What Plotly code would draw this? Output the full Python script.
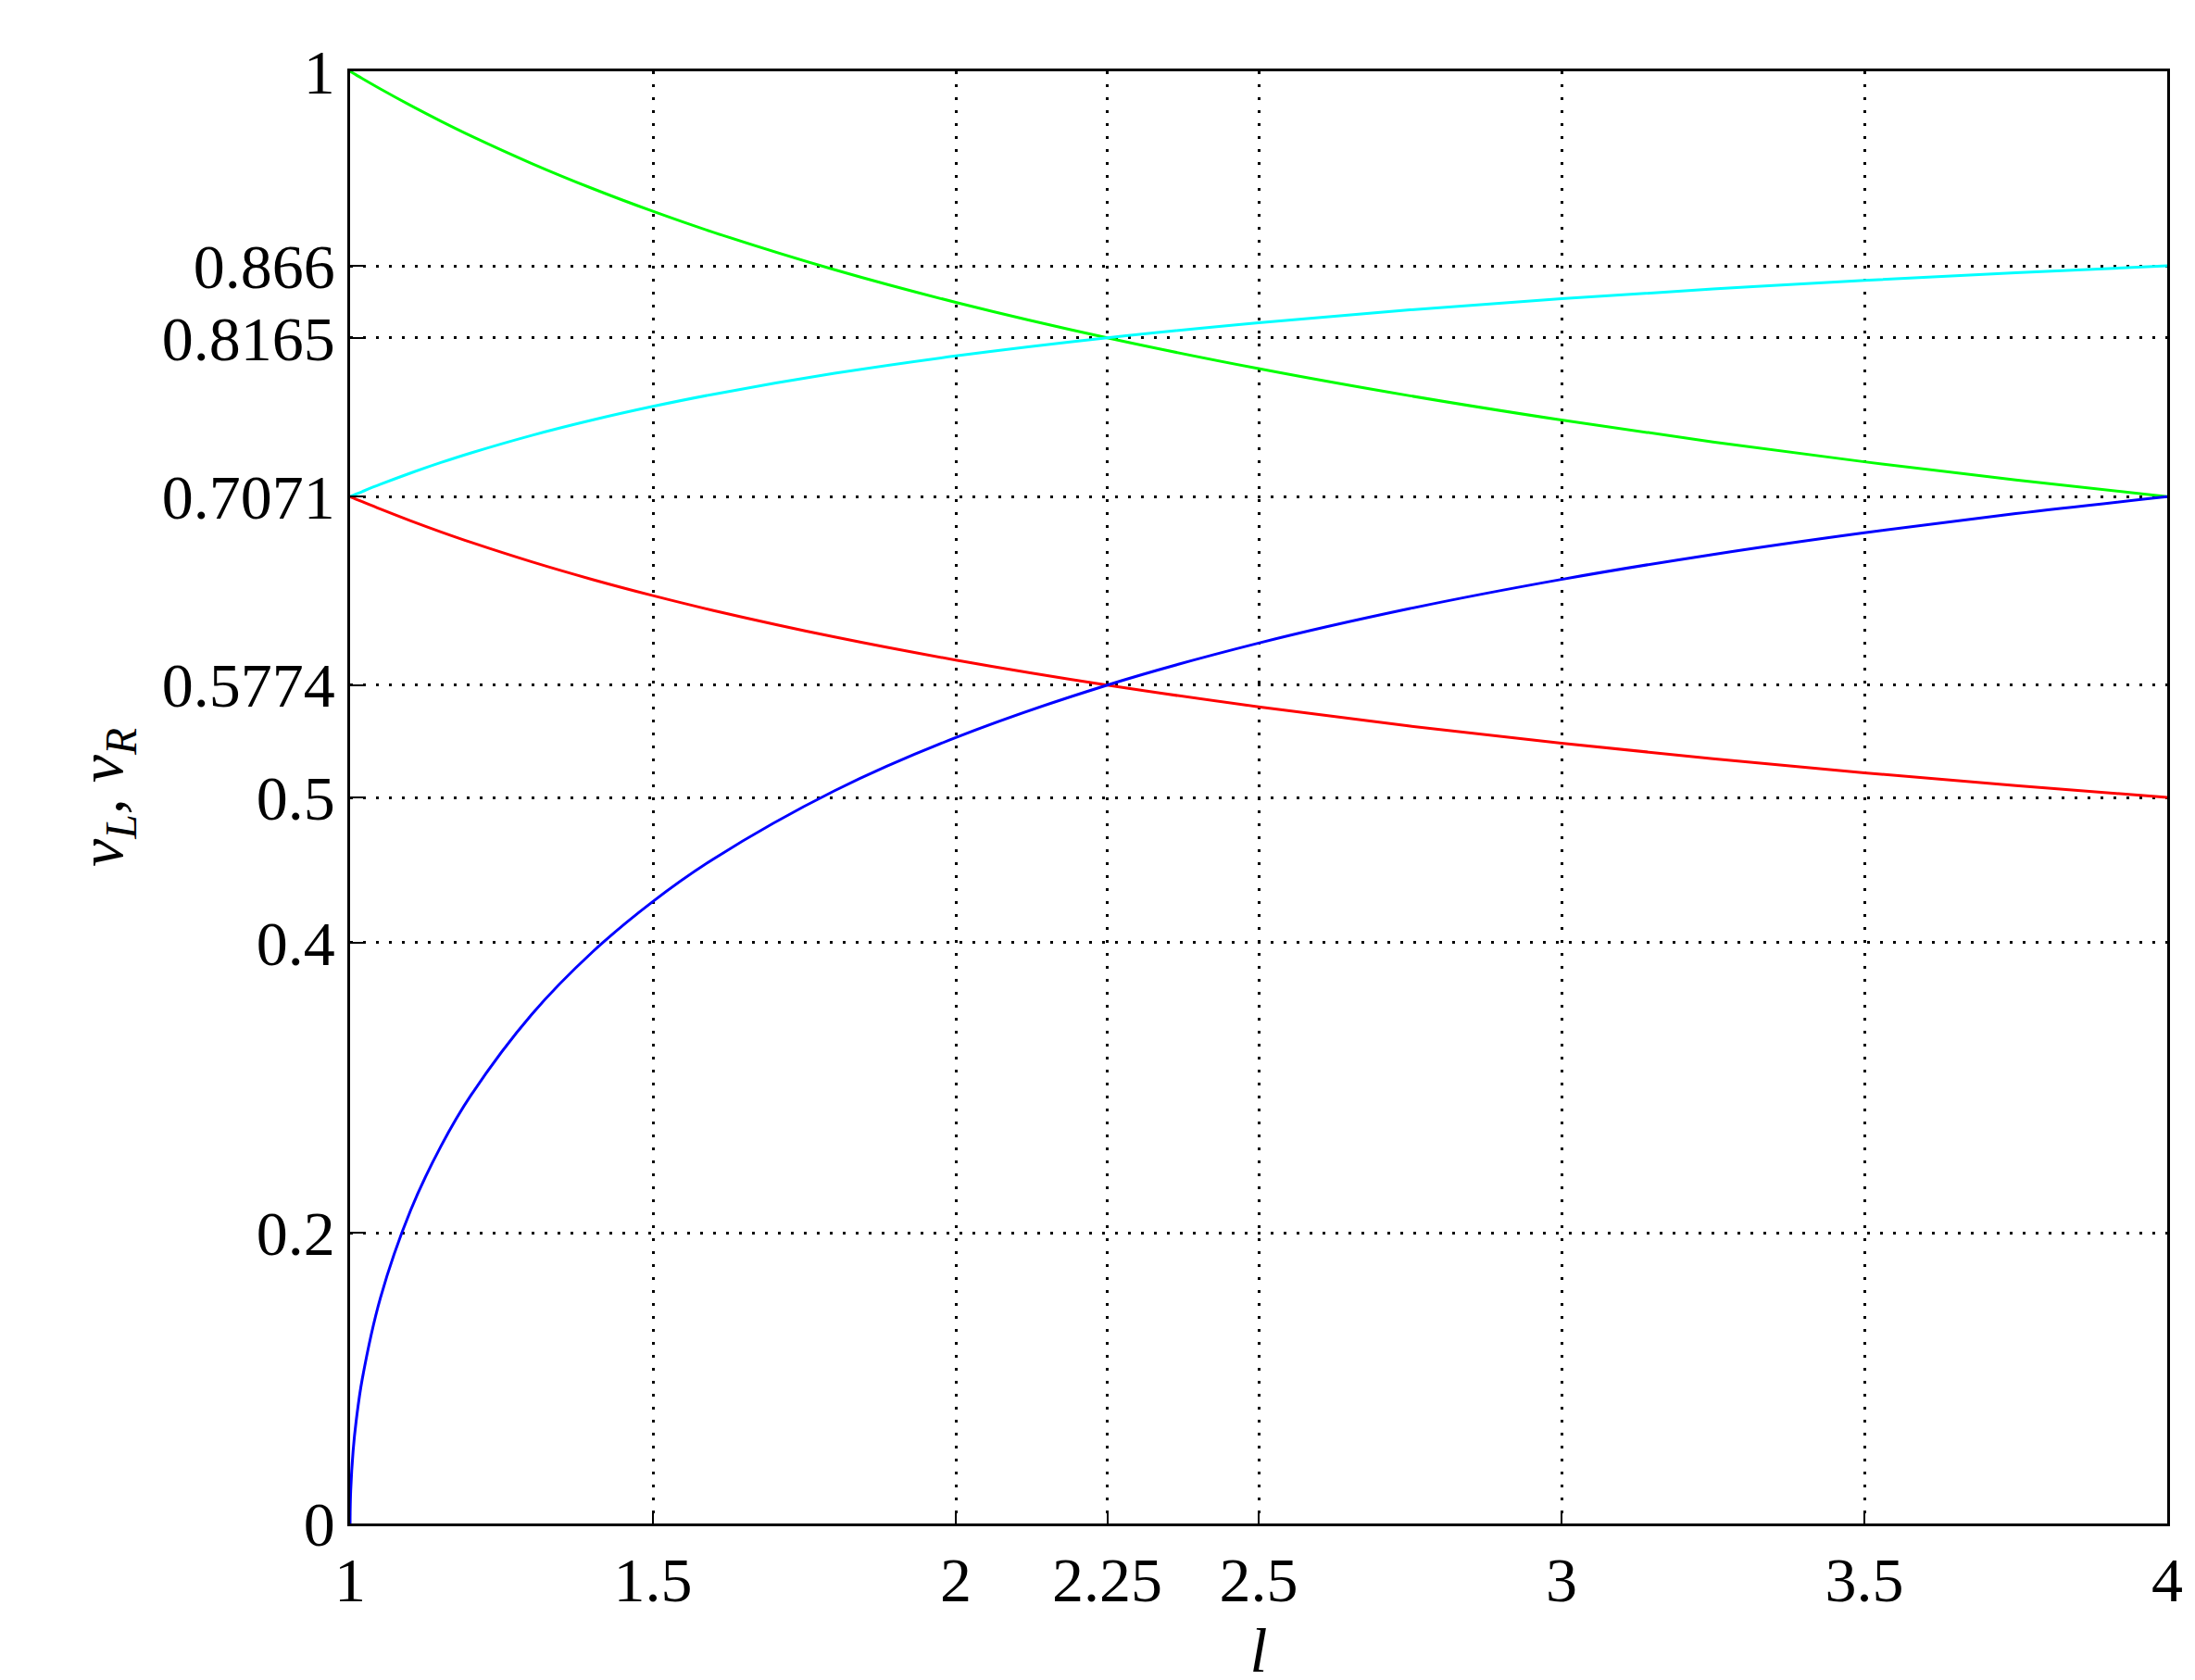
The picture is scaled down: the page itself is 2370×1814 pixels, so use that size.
import plotly.graph_objects as go

l_vals = [1, 1.001, 1.005, 1.01, 1.02, 1.05, 1.1, 1.15, 1.2, 1.3, 1.4, 1.5, 1.6, 1.8, 2,
          2.25, 2.5, 2.75, 3, 3.25, 3.5, 3.75, 4]
green = [1, 0.99975, 0.99875, 0.99752, 0.99506, 0.98788, 0.97646, 0.96566, 0.95543, 0.93652,
         0.91932, 0.90360, 0.88914, 0.86334, 0.84090, 0.81650, 0.79527, 0.77654, 0.75984,
         0.74478, 0.73111, 0.71861, 0.70711]
red = [0.70711, 0.70693, 0.70623, 0.70535, 0.70362, 0.69854, 0.69046, 0.68282, 0.67559,
       0.66222, 0.65006, 0.63894, 0.62872, 0.61047, 0.59460, 0.57735, 0.56234, 0.54910,
       0.53729, 0.52664, 0.51697, 0.50814, 0.5]
cyan = [0.70711, 0.70729, 0.70799, 0.70886, 0.71058, 0.71558, 0.72337, 0.73058, 0.73727,
        0.74931, 0.75988, 0.76926, 0.77764, 0.79204, 0.80402, 0.81650, 0.82690, 0.83576,
        0.84340, 0.85009, 0.85600, 0.86128, 0.86603]
blue_l = [1, 1.0001] + l_vals[1:]
blue = [0, 0.00707, 0.02236, 0.04994, 0.07045, 0.09926, 0.15524, 0.21572, 0.25980, 0.29518,
        0.35063, 0.39350, 0.42837, 0.45764, 0.50462, 0.54120, 0.57735, 0.60625, 0.63006,
        0.65012, 0.66731, 0.68226, 0.69542, 0.70711]

x_ticks = [1, 1.5, 2, 2.25, 2.5, 3, 3.5, 4]
x_labels = ["1", "1.5", "2", "2.25", "2.5", "3", "3.5", "4"]
y_ticks = [0, 0.2, 0.4, 0.5, 0.5774, 0.7071, 0.8165, 0.866, 1]
y_labels = ["0", "0.2", "0.4", "0.5", "0.5774", "0.7071", "0.8165", "0.866", "1"]

fig = go.Figure()
for xs, ys, c in [(l_vals, green, "#00ff00"), (l_vals, cyan, "#00ffff"),
                  (l_vals, red, "#ff0000"), (blue_l, blue, "#0000ff")]:
    fig.add_trace(go.Scatter(x=xs, y=ys, mode="lines", line=dict(color=c, width=3, shape="spline"),
                             showlegend=False))

font = dict(family="Liberation Serif", size=68, color="black")
axis_common = dict(showline=True, linecolor="black", linewidth=2.5, mirror=True,
                   ticks="inside", ticklen=14, tickwidth=2, tickcolor="black",
                   showgrid=True, gridcolor="black", griddash="3px,11px", gridwidth=2.5,
                   zeroline=False, tickfont=font)
fig.update_layout(
    width=2370, height=1814, paper_bgcolor="white", plot_bgcolor="white",
    margin=dict(l=370, r=38, t=69, b=177),
    xaxis=dict(range=[1, 4], tickvals=x_ticks, ticktext=x_labels,
               title=dict(text="<i>l</i>", font=font, standoff=0), **axis_common),
    yaxis=dict(range=[0, 1], tickvals=y_ticks, ticktext=y_labels,
               title=dict(text="<i>v<sub>L</sub>, v<sub>R</sub></i>", font=font, standoff=20),
               **axis_common),
)
fig.write_html("out.html")
